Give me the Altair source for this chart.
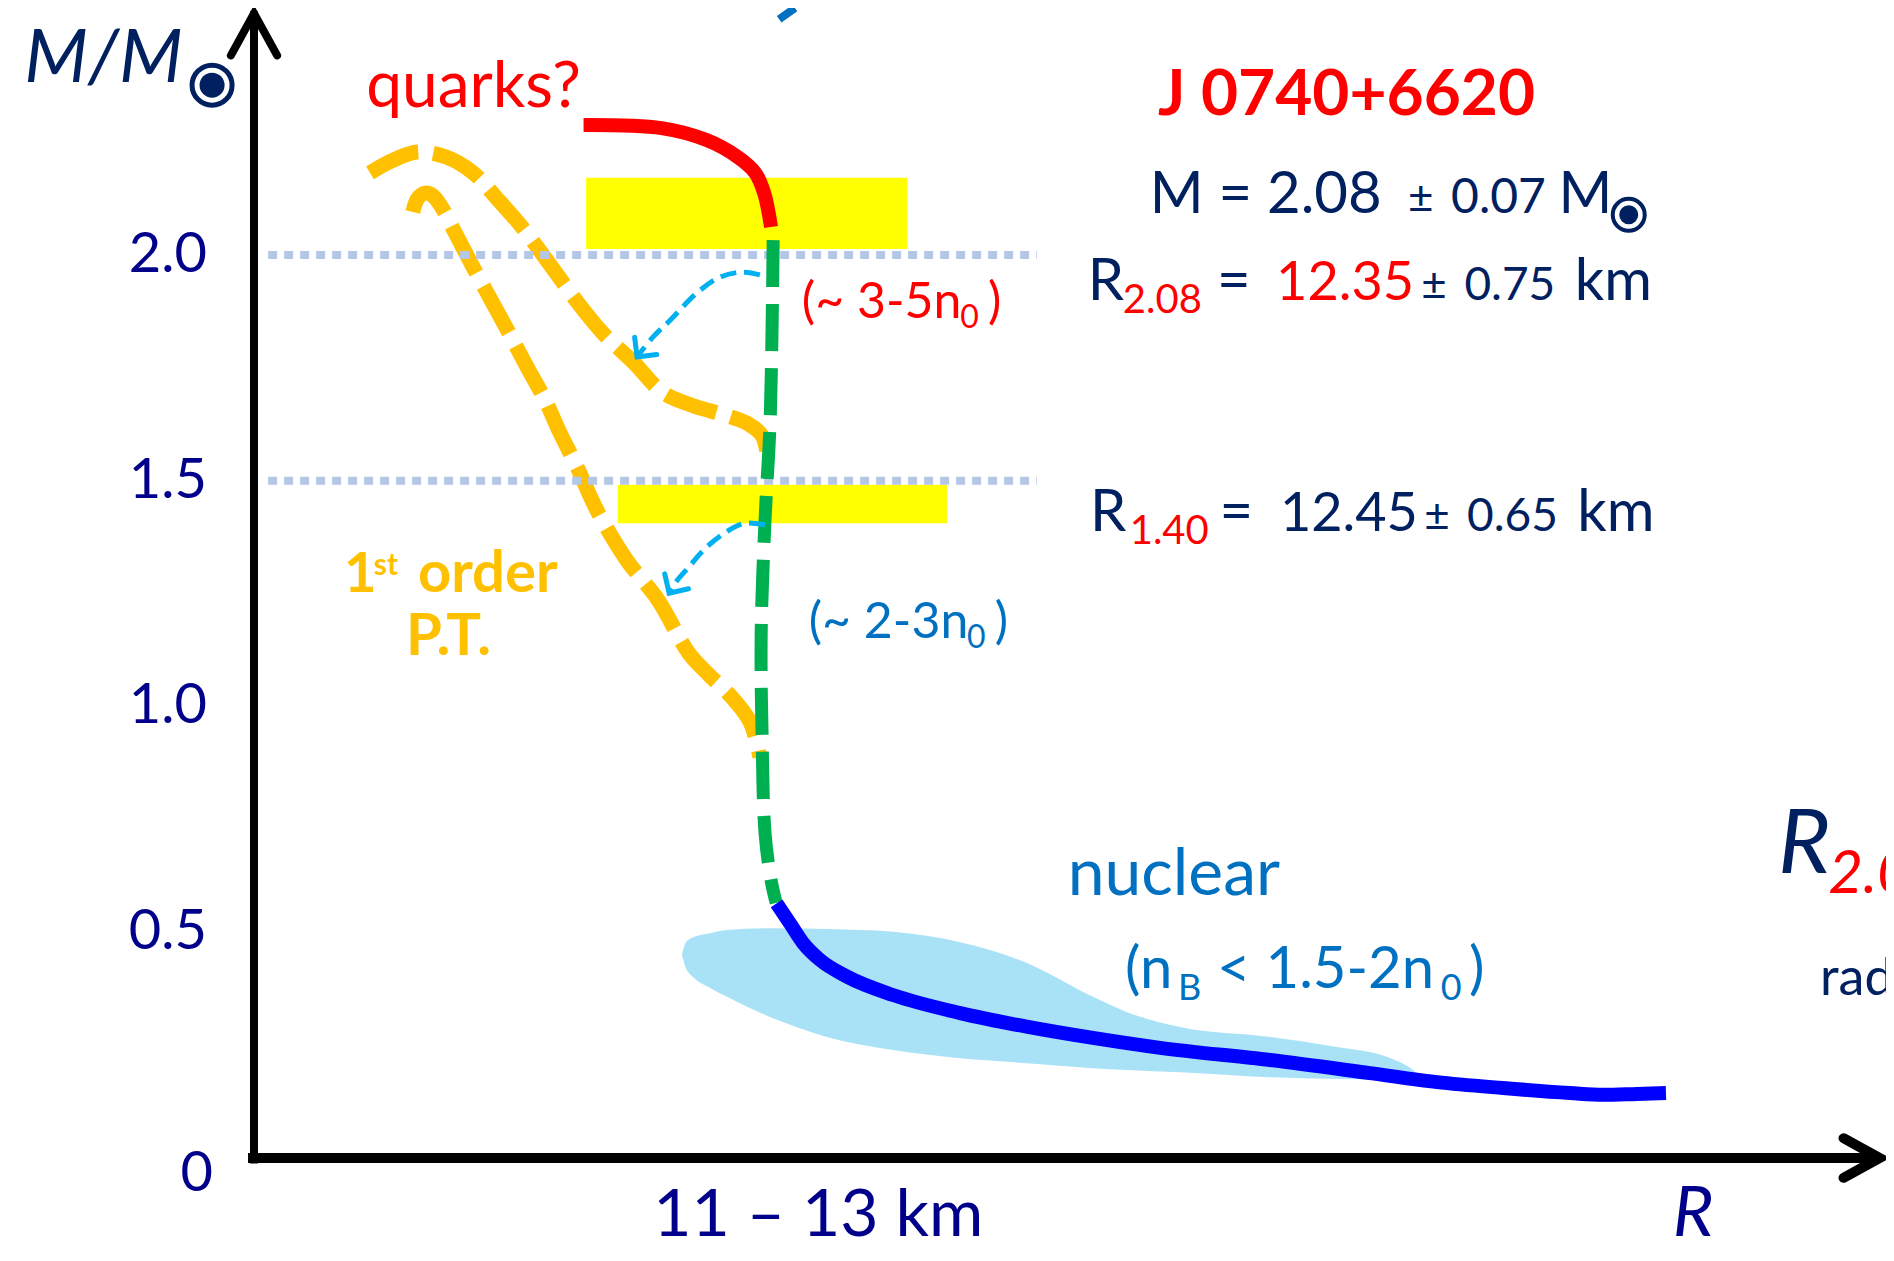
import altair as alt
import pandas as pd

# ---------------- data (R in arbitrary radius units, M in solar masses) ----------------
quark_R = [7.70, 9.52, 10.56, 11.30, 11.71, 11.92, 12.08]
quark_M = [2.288, 2.281, 2.255, 2.217, 2.182, 2.137, 2.062]

hadron_R = [12.13, 12.06, 11.94, 11.85, 11.87, 11.94, 12.08, 12.20]
hadron_M = [2.033, 1.635, 1.413, 1.163, 0.941, 0.720, 0.616, 0.565]

nuclear_R = [12.21, 12.52, 12.83, 13.22, 13.85, 14.93, 16.50, 18.05, 19.60, 21.17, 23.74, 26.07, 27.64, 29.18, 30.75, 31.52, 32.31, 32.99]
nuclear_M = [0.564, 0.520, 0.476, 0.439, 0.402, 0.361, 0.321, 0.291, 0.266, 0.244, 0.217, 0.188, 0.168, 0.155, 0.144, 0.140, 0.142, 0.144]

band_R = [10.00, 10.09, 10.26, 10.65, 11.05, 12.22, 13.39, 14.93, 16.50, 18.06, 19.60, 20.40, 21.64, 23.74, 25.30, 26.47, 27.08, 27.41]
band_top = [0.450, 0.478, 0.489, 0.498, 0.505, 0.509, 0.507, 0.501, 0.478, 0.432, 0.357, 0.323, 0.290, 0.268, 0.246, 0.224, 0.195, 0.166]
band_bot = [0.450, 0.421, 0.401, 0.377, 0.357, 0.306, 0.268, 0.239, 0.221, 0.210, 0.199, 0.195, 0.190, 0.179, 0.175, 0.173, 0.168, 0.164]

pt_outer_R = [2.71, 3.25, 3.81, 4.49, 5.12, 5.65, 6.26, 6.89, 7.52, 8.15, 8.88, 9.53, 10.26, 10.98, 11.54, 11.87, 12.01]
pt_outer_M = [2.182, 2.210, 2.228, 2.217, 2.182, 2.128, 2.062, 1.982, 1.900, 1.827, 1.761, 1.697, 1.666, 1.646, 1.626, 1.600, 1.550]

pt_inner_R = [3.71, 3.83, 4.00, 4.18, 4.37, 4.70, 5.12, 5.54, 5.96, 6.38, 6.80, 7.15, 7.55, 8.01, 8.71, 9.44, 10.16, 10.63, 11.12, 11.59, 11.82]
pt_inner_M = [2.095, 2.126, 2.137, 2.131, 2.108, 2.049, 1.973, 1.900, 1.827, 1.752, 1.679, 1.606, 1.530, 1.435, 1.324, 1.236, 1.118, 1.070, 1.025, 0.966, 0.888]

arrow1_R = [11.82, 11.40, 10.89, 10.35, 9.73, 9.32, 8.95]
arrow1_M = [1.956, 1.962, 1.951, 1.916, 1.856, 1.818, 1.774]
arrow2_R = [11.94, 11.47, 10.99, 10.51, 10.16, 9.86, 9.70]
arrow2_M = [1.402, 1.406, 1.384, 1.347, 1.309, 1.276, 1.251]

# measurement boxes: [R_left, R_right, M_low, M_high]
box_2p08 = [7.76, 15.26, 2.013, 2.171]
box_1p40 = [8.50, 16.19, 1.406, 1.491]

ref_masses = [2.0, 1.5]
ref_R_span = [0.33, 18.29]

tick_values = [2.0, 1.5, 1.0, 0.5]
tick_labels = ["2.0", "1.5", "1.0", "0.5"]

# ---------------- scales & helpers ----------------
X_MIN, X_MAX = -5.748, 38.131
Y_MIN, Y_MAX = -0.2104, 2.547
XS = alt.Scale(domain=[X_MIN, X_MAX], nice=False, zero=False)
YS = alt.Scale(domain=[Y_MIN, Y_MAX], nice=False, zero=False)

FONT = "Lato"
NAVY = "#002060"
TICK = "#00008b"
RED = "#ff0000"
GREEN = "#00b050"
BLUE = "#0000ff"
ORANGE = "#ffc000"
CYAN = "#00b0f0"
TBLUE = "#0070c0"
BAND = "#a9e2f7"
DOT = "#b4c7e7"
YELLOW = "#ffff00"


def X(f="x"):
    return alt.X(f"{f}:Q", scale=XS, axis=None)


def Y(f="y"):
    return alt.Y(f"{f}:Q", scale=YS, axis=None)


def curve(R, M, color, width, dash=None, interp="catmull-rom"):
    df = pd.DataFrame({"x": R, "y": M, "i": list(range(len(R)))})
    kw = dict(color=color, strokeWidth=width, interpolate=interp, strokeCap="butt")
    if dash:
        kw["strokeDash"] = dash
    return alt.Chart(df).mark_line(**kw).encode(x=X(), y=Y(), order="i:Q")


def text(s, x, y, size, color, weight="normal", style="normal", align="left",
         baseline="alphabetic", dx=0, dy=0):
    df = pd.DataFrame({"x": [x], "y": [y], "t": [s]})
    return alt.Chart(df).mark_text(
        align=align, baseline=baseline, fontSize=size, color=color, font=FONT,
        fontWeight=weight, fontStyle=style, dx=dx, dy=dy
    ).encode(x=X(), y=Y(), text="t:N")


def symbol(x, y, shape, size, color, width, angle=0, filled=False):
    df = pd.DataFrame({"x": [x], "y": [y]})
    kw = dict(shape=shape, size=size, opacity=1, angle=angle, strokeCap="round", strokeJoin="miter")
    if filled:
        kw.update(filled=True, fill=color, strokeWidth=0)
    else:
        kw.update(filled=False, stroke=color, strokeWidth=width)
    return alt.Chart(df).mark_point(**kw).encode(x=X(), y=Y())


def sun(x, y, ring_size, dot_size, ring_w):
    return symbol(x, y, "circle", ring_size, NAVY, ring_w) + symbol(x, y, "circle", dot_size, NAVY, 0, filled=True)


CHEVRON = "M -1,-1 L 0,0 L -1,1"
AXIS_CHEVRON = "M -1,-0.55 L 0,0 L -1,0.55"

layers = []

# yellow measurement boxes
boxes = pd.DataFrame({
    "x": [box_2p08[0], box_1p40[0]], "x2": [box_2p08[1], box_1p40[1]],
    "y": [box_2p08[2], box_1p40[2]], "y2": [box_2p08[3], box_1p40[3]],
})
layers.append(alt.Chart(boxes).mark_rect(color=YELLOW).encode(
    x=X(), x2=alt.X2("x2:Q"), y=Y(), y2=alt.Y2("y2:Q")))

# nuclear band
band_df = pd.DataFrame({"x": band_R, "top": band_top, "bot": band_bot})
layers.append(alt.Chart(band_df).mark_area(color=BAND, opacity=1, interpolate="monotone").encode(
    x=X(), y=Y("top"), y2=alt.Y2("bot:Q")))

# orange phase-transition curves
layers.append(curve(pt_outer_R, pt_outer_M, ORANGE, 15, [53, 15]))
layers.append(curve(pt_inner_R, pt_inner_M, ORANGE, 15, [53, 15]))

# dotted reference lines
ref_df = pd.DataFrame({"y": ref_masses, "x": [ref_R_span[0]] * 2, "x2": [ref_R_span[1]] * 2})
layers.append(alt.Chart(ref_df).mark_rule(color=DOT, strokeWidth=8, strokeDash=[9, 7]).encode(
    x=X(), x2=alt.X2("x2:Q"), y=Y()))

# hadronic (green), quark (red), nuclear (blue)
layers.append(curve(hadron_R, hadron_M, GREEN, 13, [47, 17]))
layers.append(curve(quark_R, quark_M, RED, 14))
layers.append(curve(nuclear_R, nuclear_M, BLUE, 14, interp="monotone"))

# cyan arrows
layers.append(curve(arrow1_R, arrow1_M, CYAN, 5, [16, 8]))
layers.append(curve(arrow2_R, arrow2_M, CYAN, 5, [16, 8]))
layers.append(symbol(arrow1_R[-1], arrow1_M[-1], CHEVRON, 784, CYAN, 5, angle=128))
layers.append(symbol(arrow2_R[-1], arrow2_M[-1], CHEVRON, 784, CYAN, 5, angle=122))

# axes
yaxis = pd.DataFrame({"x": [0.0], "y": [-0.012], "y2": [2.54]})
layers.append(alt.Chart(yaxis).mark_rule(color="black", strokeWidth=8).encode(
    x=X(), y=Y(), y2=alt.Y2("y2:Q")))
xaxis = pd.DataFrame({"x": [-0.14], "x2": [37.95], "y": [0.0]})
layers.append(alt.Chart(xaxis).mark_rule(color="black", strokeWidth=10).encode(
    x=X(), x2=alt.X2("x2:Q"), y=Y()))
layers.append(symbol(0.0, 2.535, AXIS_CHEVRON, 7056, "black", 8, angle=270))
layers.append(symbol(37.98, 0.0, AXIS_CHEVRON, 5184, "black", 10, angle=0))

# tick labels
tick_df = pd.DataFrame({"y": tick_values, "t": tick_labels, "x": [-1.1] * len(tick_values)})
layers.append(alt.Chart(tick_df).mark_text(
    align="right", baseline="middle", fontSize=56, color=TICK, font=FONT
).encode(x=X(), y=Y(), text="t:N"))
layers.append(text("0", -1.1, 0.0, 56, TICK, align="right", baseline="middle", dx=6, dy=16))

# axis titles
layers.append(text("M/M", -5.37, 2.383, 74, NAVY, style="italic"))
layers.append(sun(-0.98, 2.376, 1600, 625, 5))
layers.append(text("11 \u2013 13 km", 9.33, -0.172, 66, TICK))
layers.append(text("R", 33.15, -0.172, 70, TICK, style="italic"))

# curve annotations
layers.append(text("quarks?", 2.62, 2.328, 64, RED))
layers.append(text("(~ 3-5n", 12.80, 1.860, 50, RED))
layers.append(text("0", 16.50, 1.838, 32, RED))
layers.append(text(")", 17.15, 1.860, 50, RED))
layers.append(text("(~ 2-3n", 12.96, 1.152, 50, TBLUE))
layers.append(text("0", 16.66, 1.130, 32, TBLUE))
layers.append(text(")", 17.31, 1.152, 50, TBLUE))
layers.append(text("1", 2.10, 1.254, 56, ORANGE, weight="bold"))
layers.append(text("st", 2.80, 1.291, 30, ORANGE, weight="bold"))
layers.append(text("order", 3.83, 1.254, 58, ORANGE, weight="bold"))
layers.append(text("P.T.", 3.55, 1.114, 58, ORANGE, weight="bold"))
layers.append(text("nuclear", 19.01, 0.583, 66, TBLUE))
layers.append(text("(n", 20.35, 0.376, 58, TBLUE))
layers.append(text("B", 21.59, 0.350, 36, TBLUE))
layers.append(text("< 1.5-2n", 22.50, 0.376, 58, TBLUE))
layers.append(text("0", 27.73, 0.350, 36, TBLUE))
layers.append(text(")", 28.39, 0.376, 58, TBLUE))

# measurement block
layers.append(text("J 0740+6620", 21.12, 2.310, 64, RED, weight="bold"))
layers.append(text("M = 2.08", 20.93, 2.092, 58, NAVY))
layers.append(text("\u00b1", 26.96, 2.092, 44, NAVY))
layers.append(text("0.07", 27.97, 2.092, 48, NAVY))
layers.append(text("M", 30.48, 2.092, 58, NAVY))
layers.append(sun(32.12, 2.089, 1024, 361, 4))

layers.append(text("R", 19.48, 1.900, 58, NAVY))
layers.append(text("2.08", 20.30, 1.872, 40, RED))
layers.append(text("=", 22.50, 1.900, 58, NAVY))
layers.append(text("12.35", 23.88, 1.900, 54, RED))
layers.append(text("\u00b1", 27.27, 1.900, 44, NAVY))
layers.append(text("0.75", 28.28, 1.900, 46, NAVY))
layers.append(text("km", 30.86, 1.900, 58, NAVY))

layers.append(text("R", 19.53, 1.389, 58, NAVY))
layers.append(text("1.40", 20.46, 1.360, 40, RED))
layers.append(text("=", 22.56, 1.389, 58, NAVY))
layers.append(text("12.45", 23.97, 1.389, 54, NAVY))
layers.append(text("\u00b1", 27.34, 1.389, 44, NAVY))
layers.append(text("0.65", 28.34, 1.389, 46, NAVY))
layers.append(text("km", 30.92, 1.389, 58, NAVY))

# cut-off text at the right edge (cut in the reference as well)
layers.append(text("R", 35.61, 0.631, 90, NAVY, style="italic"))
layers.append(text("2.0", 36.78, 0.587, 60, RED, style="italic"))
layers.append(text("rad", 36.59, 0.361, 52, NAVY))

# small cut-off glyph fragment at the top
frag = pd.DataFrame({"x": [12.64], "y": [2.547], "x2": [12.27], "y2": [2.522]})
layers.append(alt.Chart(frag).mark_rule(color=TBLUE, strokeWidth=8).encode(
    x=X(), y=Y(), x2=alt.X2("x2:Q"), y2=alt.Y2("y2:Q")))

chart = alt.layer(*layers).properties(
    width=1878, height=1245,
    autosize=alt.AutoSizeParams(type="none"),
    padding=0,
    background="white",
).configure_view(stroke=None)

chart.save("out.html", embed_options={"renderer": "svg", "actions": False})
